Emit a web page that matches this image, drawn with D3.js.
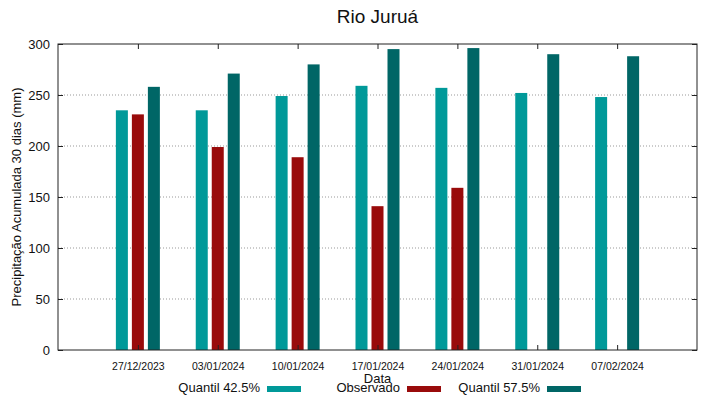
<!DOCTYPE html>
<html>
<head>
<meta charset="utf-8">
<script src="https://cdn.jsdelivr.net/npm/d3@7"></script>
<style>
  body { margin: 0; background: #fff; }
  svg { display: block; font-family: "Liberation Sans", Arial, sans-serif; }
</style>
</head>
<body>
<svg id="chart" width="719" height="399"></svg>
<script>
'use strict';

// dates (x categories)
const datas = ["27/12/2023", "03/01/2024", "10/01/2024", "17/01/2024", "24/01/2024", "31/01/2024", "07/02/2024"];
// series values, mm accumulated over 30 days
const quantil425 = [235, 235, 249, 259, 257, 252, 248];
const observado = [231, 199, 189, 141, 159, null, null];
const quantil575 = [258, 271, 280, 295, 296, 290, 288];
const yTicks = [0, 50, 100, 150, 200, 250, 300];

const series = [
    { name: "Quantil 42.5%", values: quantil425, color: "#009999" },
    { name: "Observado", values: observado, color: "#990b0b" },
    { name: "Quantil 57.5%", values: quantil575, color: "#006666" },
];

const svg = d3.select("#chart");
const m = { left: 58, right: 697, top: 44, bottom: 350 };

// one empty slot before and after the dates, like the original
const x = d3.scaleLinear().domain([-1, datas.length]).range([m.left, m.right]);
const y = d3.scaleLinear().domain([0, 300]).range([m.bottom, m.top]);

const barW = 12, step = 16;

// grid
svg.append("g")
    .selectAll("line")
    .data(yTicks.filter(t => t > 0 && t < 300))
    .join("line")
    .attr("x1", m.left).attr("x2", m.right)
    .attr("y1", d => y(d)).attr("y2", d => y(d))
    .attr("stroke", "#999").attr("stroke-width", 1)
    .attr("stroke-dasharray", "1,2");

// bars
series.forEach((s, k) => {
    svg.append("g")
        .selectAll("rect")
        .data(s.values.map((v, i) => ({ v, i })).filter(d => d.v != null))
        .join("rect")
        .attr("x", d => x(d.i) + (k - 1) * step - barW / 2)
        .attr("y", d => y(d.v))
        .attr("width", barW)
        .attr("height", d => y(0) - y(d.v))
        .attr("fill", s.color);
});

// frame
svg.append("rect")
    .attr("x", m.left).attr("y", m.top)
    .attr("width", m.right - m.left).attr("height", m.bottom - m.top)
    .attr("fill", "none").attr("stroke", "#222").attr("stroke-width", 1);

// y axis left and right (ticks inward, mirrored)
const yLeft = svg.append("g")
    .attr("transform", `translate(${m.left},0)`)
    .call(d3.axisLeft(y).tickValues(yTicks).tickSize(-5).tickPadding(8));
const yRight = svg.append("g")
    .attr("transform", `translate(${m.right},0)`)
    .call(d3.axisRight(y).tickValues(yTicks).tickSize(-5).tickFormat(""));

// x axis bottom and top
const xBottom = svg.append("g")
    .attr("transform", `translate(0,${m.bottom})`)
    .call(d3.axisBottom(x).tickValues(d3.range(datas.length)).tickFormat(i => datas[i]).tickSize(-5).tickPadding(13));
const xTop = svg.append("g")
    .attr("transform", `translate(0,${m.top})`)
    .call(d3.axisTop(x).tickValues(d3.range(datas.length)).tickFormat("").tickSize(-5));

[yLeft, yRight, xBottom, xTop].forEach(g => {
    g.select(".domain").remove();
    g.selectAll(".tick line").attr("stroke", "#222");
});
yLeft.selectAll("text").attr("font-size", 13).attr("fill", "#111").attr("font-family", "Liberation Sans, Arial, sans-serif");
xBottom.selectAll("text").attr("font-size", 10.5).attr("fill", "#111").attr("font-family", "Liberation Sans, Arial, sans-serif");

// title
svg.append("text")
    .attr("x", (m.left + m.right) / 2).attr("y", 23)
    .attr("text-anchor", "middle")
    .attr("font-size", 19).attr("fill", "#111")
    .text("Rio Juruá");

// y label
svg.append("text")
    .attr("transform", `translate(21,${(m.top + m.bottom) / 2}) rotate(-90)`)
    .attr("text-anchor", "middle")
    .attr("font-size", 13).attr("fill", "#111")
    .text("Precipitação Acumulada 30 dias (mm)");

// x label
svg.append("text")
    .attr("x", (m.left + m.right) / 2).attr("y", 383)
    .attr("text-anchor", "middle")
    .attr("font-size", 13).attr("fill", "#111")
    .text("Data");

// legend
const legend = svg.append("g")
    .selectAll("g")
    .data(series)
    .join("g")
    .attr("transform", (d, i) => `translate(${260 + i * 140},0)`);

legend.append("text")
    .attr("x", 0).attr("y", 392)
    .attr("text-anchor", "end")
    .attr("font-size", 13).attr("fill", "#111")
    .text(d => d.name);

legend.append("rect")
    .attr("x", 7).attr("y", 386)
    .attr("width", 34).attr("height", 6)
    .attr("fill", d => d.color);
</script>
</body>
</html>
